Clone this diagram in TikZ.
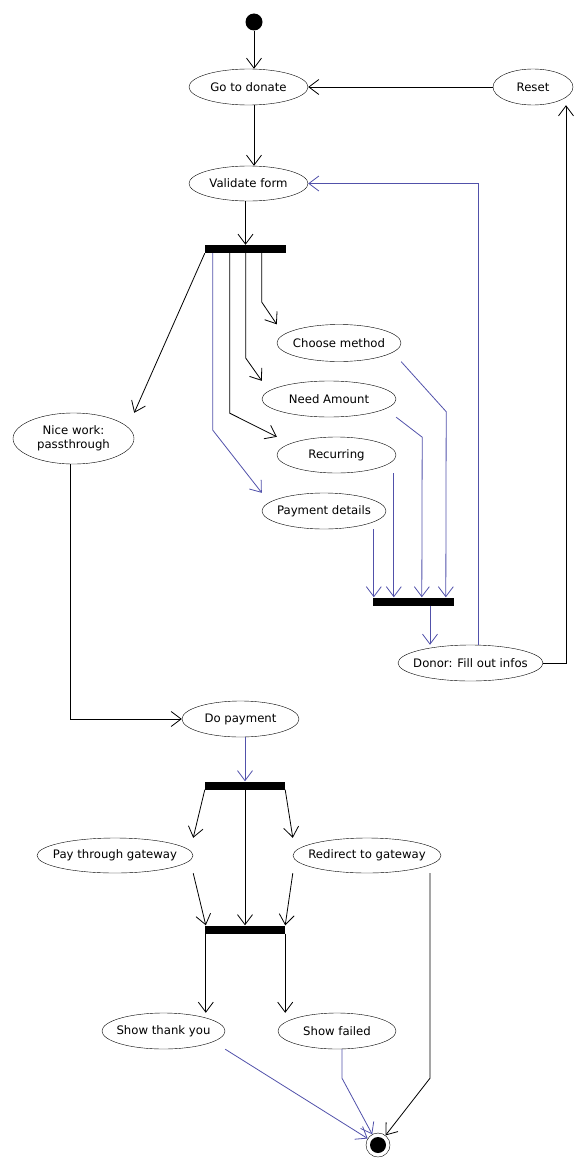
\documentclass[tikz,border=0pt]{standalone}
\usepackage{fontspec}
\setmainfont{DejaVu Sans}
\usepackage{tikz}
\usetikzlibrary{shapes.geometric, arrows.meta, positioning, calc}
\definecolor{flowblue}{HTML}{5151AA}

\begin{document}
\begin{tikzpicture}[
    x=1pt, y=-1pt,
    activity/.style={ellipse, draw=black, fill=white, inner xsep=-20pt, inner ysep=0pt,
                     font=\fontsize{11.7}{14}\selectfont, align=center},
    syncbar/.style={rectangle, fill=black, minimum width=81pt, minimum height=8pt, inner sep=0pt},
    startdot/.style={circle, fill=black, minimum size=17pt, inner sep=0pt},
    enddot/.style={circle, draw=black, fill=white, minimum size=24pt, inner sep=0pt,
                   path picture={\fill[black] (path picture bounding box.center) circle (8pt);}},
    flow/.style={-{Straight Barb[length=10pt, width=15pt]}, line width=0.8pt},
    bflow/.style={flow, color=flowblue},
]
\useasboundingbox (0,0) rectangle (587,1172);

% Top: start, donate page, reset
\node[startdot] (init) at (254, 22) {};
\node[activity, minimum width=119pt, minimum height=36pt] (go) at (248.5, 87) {Go to donate};
\node[activity, minimum width=80pt, minimum height=36pt] (reset) at (533, 87) {Reset};
\node[activity, minimum width=119pt, minimum height=35pt] (validate) at (248.5, 183.5) {Validate form};
\node[syncbar] (fork) at (245.5, 249) {};

% Form branches
\node[activity, minimum width=121pt, minimum height=51pt] (passthrough) at (73.5, 438.5) {Nice work:\\passthrough};
\node[activity, minimum width=124pt, minimum height=37pt] (choose) at (339, 343) {Choose method};
\node[activity, minimum width=134pt, minimum height=36pt] (need) at (329, 399) {Need Amount};
\node[activity, minimum width=119pt, minimum height=36pt] (recurring) at (336.5, 455) {Recurring};
\node[activity, minimum width=124pt, minimum height=36pt] (payment) at (324, 511) {Payment details};
\node[syncbar] (join) at (413.5, 601.5) {};
\node[activity, minimum width=145pt, minimum height=36pt] (donor) at (470.5, 663) {Donor: Fill out infos};

% Payment part
\node[activity, minimum width=117pt, minimum height=36pt] (dopay) at (240.5, 719) {Do payment};
\node[syncbar, minimum width=80pt] (fork2) at (245, 785.5) {};
\node[activity, minimum width=156pt, minimum height=35pt] (paygw) at (115, 855.5) {Pay through gateway};
\node[activity, minimum width=148pt, minimum height=35pt] (redirect) at (367, 855.5) {Redirect to gateway};
\node[syncbar, minimum width=80pt] (merge) at (245, 929.5) {};
\node[activity, minimum width=123pt, minimum height=36pt] (thanks) at (163.5, 1031) {Show thank you};
\node[activity, minimum width=118pt, minimum height=36pt] (failed) at (337, 1031) {Show failed};
\node[enddot] (final) at (378, 1145) {};

% start -> go -> validate -> fork
\draw[flow] (init) -- (init |- go.north);
\draw[flow] (init |- go.south) -- (init |- validate.north);
\draw[flow] (reset.west) -- (go.east);
\draw[flow] (validate.south -| fork.north) -- (fork.north);

% fork -> branches
\draw[flow] (fork.south west) -- (passthrough.east |- passthrough.north);
\draw[bflow] ([xshift=8pt]fork.south west) -- ++(0,177) -- (payment.west |- payment.north);
\draw[flow] ([xshift=25pt]fork.south west) -- ++(0,160) -- (recurring.west |- recurring.north);
\draw[flow] ([xshift=41pt]fork.south west) -- ++(0,105) -- (need.west |- need.north);
\draw[flow] ([xshift=57pt]fork.south west) -- ++(0,49) -- (choose.west |- choose.north);

% branches -> join
\coordinate (j1) at ([xshift=1pt]join.north west);
\coordinate (j2) at ([xshift=21pt]join.north west);
\coordinate (j3) at ([xshift=49pt]join.north west);
\coordinate (j4) at ([xshift=73pt]join.north west);
\draw[bflow] (payment.south -| j1) -- (j1);
\draw[bflow] (recurring.south -| j2) -- (j2);
\draw[bflow] (need.east |- need.south) -- ++(26,20) -- (j3);
\draw[bflow] (choose.east |- choose.south) -- ++(45,50) -- (j4);
\draw[bflow] ([xshift=16.5pt]join.south) -- ([xshift=-40.5pt]donor.north);

% donor loops back
\draw[bflow] ([xshift=7.5pt]donor.north) |- (validate.east);
\draw[flow] (donor.east) -| ([xshift=33pt]reset.south);

% passthrough -> payment
\draw[flow] ([xshift=-3.5pt]passthrough.south) |- (dopay.west);
\draw[bflow] (dopay.south -| fork2.north) -- (fork2.north);

% fork2 -> gateway options -> merge
\draw[flow] (fork2.south west) -- (paygw.east |- paygw.north);
\draw[flow] (fork2.south east) -- (redirect.west |- redirect.north);
\draw[flow] (fork2.south) -- (merge.north);
\draw[flow] (paygw.east |- paygw.south) -- ([xshift=1pt]merge.north west);
\draw[flow] (redirect.west |- redirect.south) -- (merge.north east);

% merge -> results
\draw[flow] ([xshift=1pt]merge.south west) -- ([xshift=1pt]merge.south west |- thanks.north);
\draw[flow] (merge.south east) -- (merge.south east |- failed.north);

% results -> end
\draw[bflow] (thanks.east |- thanks.south) -- (final);
\draw[bflow] ([xshift=5pt]failed.south) -- ++(0,29) -- (final);
\draw[flow] ([xshift=63pt]redirect.south) -- ++(0,205) -- (final);

\end{tikzpicture}
\end{document}
